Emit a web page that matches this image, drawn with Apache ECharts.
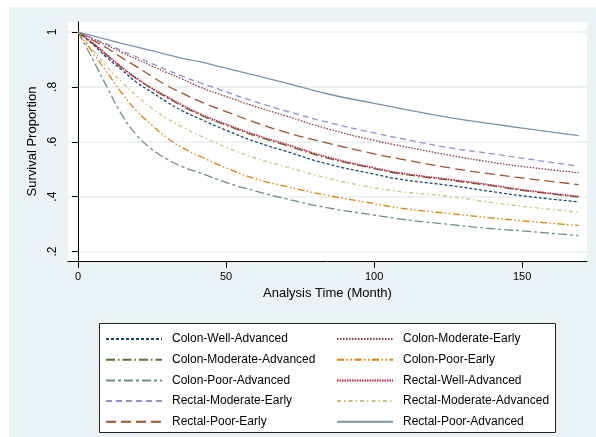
<!DOCTYPE html>
<html>
<head>
<meta charset="utf-8">
<script src="https://cdn.jsdelivr.net/npm/echarts@6/dist/echarts.min.js"></script>
<style>
  html, body { margin: 0; padding: 0; background: #fff; }
  #chart {
    width: 596px; height: 437px;
    background: linear-gradient(#eaf2f3, #eaf2f3) 9px 7px / 587px 430px no-repeat, #fff;
  }
</style>
</head>
<body>
<div id="chart"></div>
<script>
// analysis time (months)
const times = [0, 5, 10, 15, 20, 25, 30, 35, 41, 50, 60, 70, 84, 100, 109, 126, 140, 150, 169]

// survival proportion per group
const colonWellAdvanced      = [1, 0.955, 0.905, 0.86, 0.815, 0.78, 0.745, 0.714, 0.684, 0.642, 0.60, 0.566, 0.52, 0.482, 0.463, 0.44, 0.418, 0.403, 0.381]
const colonModerateEarly     = [1, 0.975, 0.95, 0.925, 0.9, 0.876, 0.852, 0.83, 0.80, 0.765, 0.728, 0.695, 0.648, 0.605, 0.585, 0.55, 0.525, 0.51, 0.487]
const colonModerateAdvanced  = [1, 0.958, 0.913, 0.868, 0.828, 0.793, 0.761, 0.731, 0.699, 0.66, 0.621, 0.588, 0.541, 0.502, 0.483, 0.459, 0.439, 0.423, 0.398]
const colonPoorEarly         = [1, 0.925, 0.85, 0.775, 0.71, 0.66, 0.615, 0.58, 0.548, 0.505, 0.465, 0.438, 0.405, 0.375, 0.358, 0.338, 0.322, 0.312, 0.295]
const colonPoorAdvanced      = [1, 0.9, 0.795, 0.695, 0.622, 0.572, 0.537, 0.51, 0.487, 0.452, 0.42, 0.393, 0.36, 0.333, 0.318, 0.298, 0.283, 0.275, 0.258]
const rectalWellAdvanced     = [1, 0.96, 0.915, 0.87, 0.83, 0.795, 0.765, 0.735, 0.703, 0.664, 0.625, 0.592, 0.545, 0.505, 0.486, 0.462, 0.442, 0.425, 0.401]
const rectalModerateEarly    = [1, 0.977, 0.955, 0.931, 0.908, 0.885, 0.862, 0.84, 0.816, 0.782, 0.745, 0.713, 0.672, 0.632, 0.612, 0.577, 0.556, 0.54, 0.511]
const rectalModerateAdvanced = [1, 0.935, 0.87, 0.815, 0.765, 0.722, 0.685, 0.655, 0.623, 0.58, 0.54, 0.51, 0.468, 0.432, 0.418, 0.40, 0.378, 0.365, 0.343]
const rectalPoorEarly        = [1, 0.97, 0.94, 0.905, 0.872, 0.838, 0.805, 0.778, 0.748, 0.71, 0.67, 0.635, 0.596, 0.556, 0.537, 0.504, 0.482, 0.468, 0.444]
const rectalPoorAdvanced     = [1, 0.986, 0.972, 0.958, 0.945, 0.932, 0.918, 0.905, 0.892, 0.868, 0.842, 0.815, 0.775, 0.74, 0.721, 0.687, 0.665, 0.65, 0.622]

const xTicks = [0, 50, 100, 150]
const yTicks = [0.2, 0.4, 0.6, 0.8, 1]

const groups = [
    { name: 'Colon-Well-Advanced', data: colonWellAdvanced, color: '#1a476f', type: [3, 2], width: 1.3 },
    { name: 'Colon-Moderate-Early', data: colonModerateEarly, color: '#90353b', type: [1.5, 1.5], width: 1.3 },
    { name: 'Colon-Moderate-Advanced', data: colonModerateAdvanced, color: '#55752f', type: [9, 3, 1.5, 3], width: 1.3 },
    { name: 'Colon-Poor-Early', data: colonPoorEarly, color: '#e37e00', type: [7, 2.5, 1.5, 2.5, 1.5, 2.5], width: 1.3 },
    { name: 'Colon-Poor-Advanced', data: colonPoorAdvanced, color: '#6e8e84', type: [9, 3, 3, 3], width: 1.3 },
    { name: 'Rectal-Well-Advanced', data: rectalWellAdvanced, color: '#d0103f', type: [1.5, 1], width: 1.5 },
    { name: 'Rectal-Moderate-Early', data: rectalModerateEarly, color: '#938dd2', type: [6, 4], width: 1.3 },
    { name: 'Rectal-Moderate-Advanced', data: rectalModerateAdvanced, color: '#cac27e', type: [4, 3, 1.5, 3], width: 1.3 },
    { name: 'Rectal-Poor-Early', data: rectalPoorEarly, color: '#a0522d', type: [10, 5], width: 1.3 },
    { name: 'Rectal-Poor-Advanced', data: rectalPoorAdvanced, color: '#7b92a8', type: 'solid', width: 1.3 }
]

const chart = echarts.init(document.getElementById('chart'), null, { renderer: 'canvas' })
const font = 'Liberation Sans, Arial, sans-serif'

const legendBase = {
    orient: 'vertical',
    top: 328,
    itemWidth: 56,
    itemHeight: 14,
    itemGap: 8.7,
    selectedMode: false,
    itemStyle: { opacity: 0 },
    textStyle: { fontFamily: font, fontSize: 12, color: '#000', padding: [0, 0, 0, 5] }
}

const option = {
    animation: false,
    textStyle: { fontFamily: font },
    grid: {
        left: 68, top: 22, right: 9, bottom: 176,
        show: true, backgroundColor: '#fff', borderWidth: 0
    },
    xAxis: {
        type: 'value',
        min: -3.38,
        max: 171.9,
        name: 'Analysis Time (Month)',
        nameLocation: 'middle',
        nameGap: 20,
        nameTextStyle: { fontSize: 13, color: '#000', fontFamily: font },
        axisLine: { onZero: false, lineStyle: { color: '#000', width: 1 } },
        axisTick: { customValues: xTicks, length: 7, lineStyle: { color: '#000' } },
        axisLabel: { customValues: xTicks, fontSize: 11, color: '#000', margin: 10 },
        splitLine: { show: false }
    },
    yAxis: {
        type: 'value',
        min: 0.1654,
        max: 1.0365,
        name: 'Survival Proportion',
        nameLocation: 'middle',
        nameGap: 25,
        nameTextStyle: { fontSize: 13, color: '#000', fontFamily: font },
        axisLine: { show: true, lineStyle: { color: '#000', width: 1 } },
        axisTick: { customValues: yTicks, length: 6, lineStyle: { color: '#000' } },
        axisLabel: {
            customValues: yTicks,
            rotate: 90,
            fontSize: 12,
            color: '#000',
            margin: 9,
            formatter: v => (v === 1 ? '1' : String(v).replace(/^0/, ''))
        },
        splitLine: { show: true, lineStyle: { color: '#e6eef0', width: 1.5 } }
    },
    legend: [
        Object.assign({}, legendBase, { left: 100, data: groups.filter((g, i) => i % 2 === 0).map(g => g.name) }),
        Object.assign({}, legendBase, { left: 331, data: groups.filter((g, i) => i % 2 === 1).map(g => g.name) })
    ],
    graphic: [
        {
            type: 'rect',
            shape: { x: 99.5, y: 323.5, width: 456, height: 109 },
            style: { fill: '#fff', stroke: '#222', lineWidth: 1 },
            z: 0,
            silent: true
        }
    ],
    series: groups.map(g => ({
        name: g.name,
        type: 'line',
        symbol: 'none',
        smooth: 0.5,
        color: g.color,
        lineStyle: { color: g.color, width: g.width, type: g.type },
        data: times.map((t, i) => [t, g.data[i]])
    }))
}

chart.setOption(option)
</script>
</body>
</html>
